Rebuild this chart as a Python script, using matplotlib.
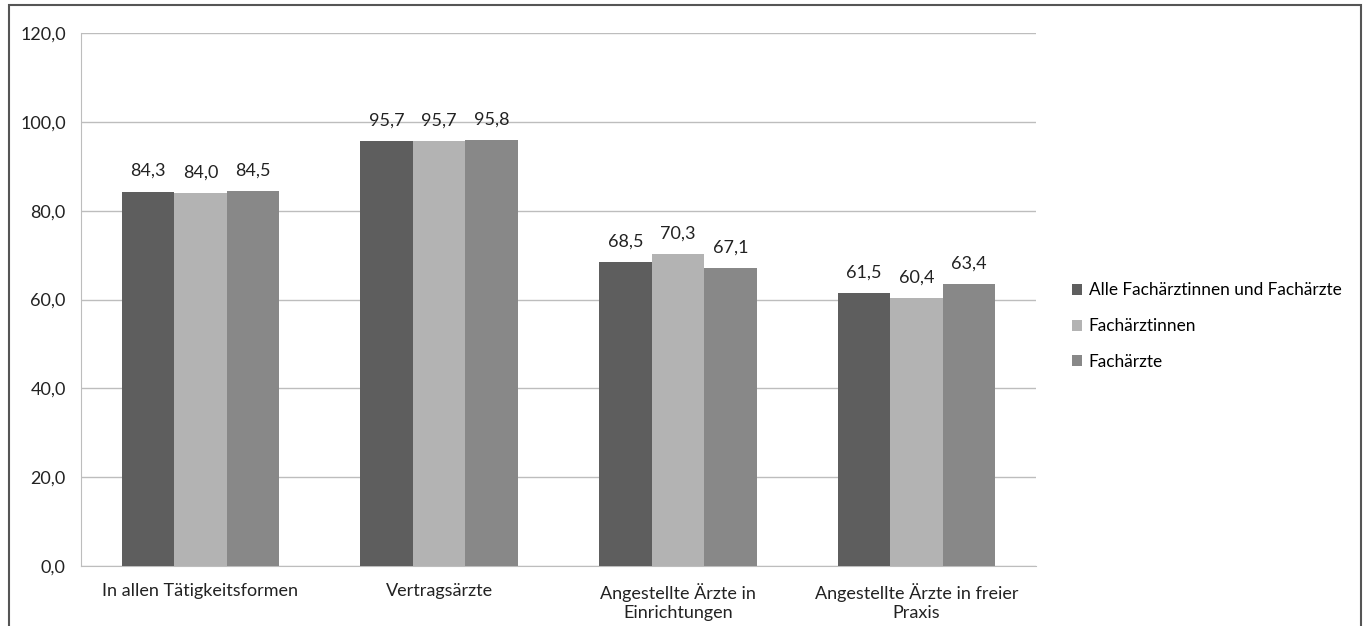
import numpy as np
import matplotlib.pyplot as plt
from matplotlib.patches import Rectangle

# Daten
kategorien = ["In allen Tätigkeitsformen", "Vertragsärzte",
              "Angestellte Ärzte in\nEinrichtungen", "Angestellte Ärzte in freier\nPraxis"]
serien = ["Alle Fachärztinnen und Fachärzte", "Fachärztinnen", "Fachärzte"]
alle = [84.3, 95.7, 68.5, 61.5]
innen = [84.0, 95.7, 70.3, 60.4]
aerzte = [84.5, 95.8, 67.1, 63.4]
farben = ["#5e5e5e", "#b3b3b3", "#888888"]
yticks = [0, 20, 40, 60, 80, 100, 120]

plt.rcParams['font.family'] = ['Lato', 'DejaVu Sans']
FS = 13

fig = plt.figure(figsize=(13.66, 6.26), dpi=100)
ax = fig.add_axes([81 / 1366, 1 - 566 / 626, (1036 - 81) / 1366, (566 - 33) / 626])

x = np.arange(len(kategorien))
w = 0.22
for i, (werte, name) in enumerate(zip([alle, innen, aerzte], serien)):
    pos = x + (i - 1) * w
    bars = ax.bar(pos, werte, width=w, color=farben[i], label=name, zorder=3)
    for b, v in zip(bars, werte):
        ax.annotate(("%.1f" % v).replace(".", ","),
                    (b.get_x() + b.get_width() / 2, v),
                    xytext=(0, 9), textcoords="offset points",
                    ha="center", va="bottom", fontsize=FS, color="#222222")

ax.set_xlim(-0.5, len(kategorien) - 0.5)
ax.set_ylim(0, 120)
ax.set_yticks(yticks)
ax.set_yticklabels([("%.1f" % t).replace(".", ",") for t in yticks], fontsize=FS, color="#222222")
ax.set_xticks(x)
ax.set_xticklabels(kategorien, fontsize=FS, color="#222222", linespacing=1.3)
ax.tick_params(axis="both", length=0)
ax.tick_params(axis="y", pad=11)
ax.tick_params(axis="x", pad=12)
ax.grid(axis="y", color="#bdbdbd", linewidth=1, zorder=0)
for s in ["top", "right"]:
    ax.spines[s].set_visible(False)
ax.spines["left"].set_color("#bdbdbd")
ax.spines["bottom"].set_color("#bdbdbd")

ax.legend(loc="center left", bbox_to_anchor=(1.03, 0.45), frameon=False, fontsize=12.4,
          handlelength=0.6, handleheight=0.6, handletextpad=0.4, labelspacing=1.15,
          borderaxespad=0)

# Rahmen um das Diagramm
fig.patches.append(Rectangle((9 / 1366, -0.1), (1361 - 9) / 1366, 1.1 - 5 / 626,
                             transform=fig.transFigure, fill=False,
                             edgecolor="#555555", linewidth=1.5))

fig.savefig("out.png", dpi=100)
